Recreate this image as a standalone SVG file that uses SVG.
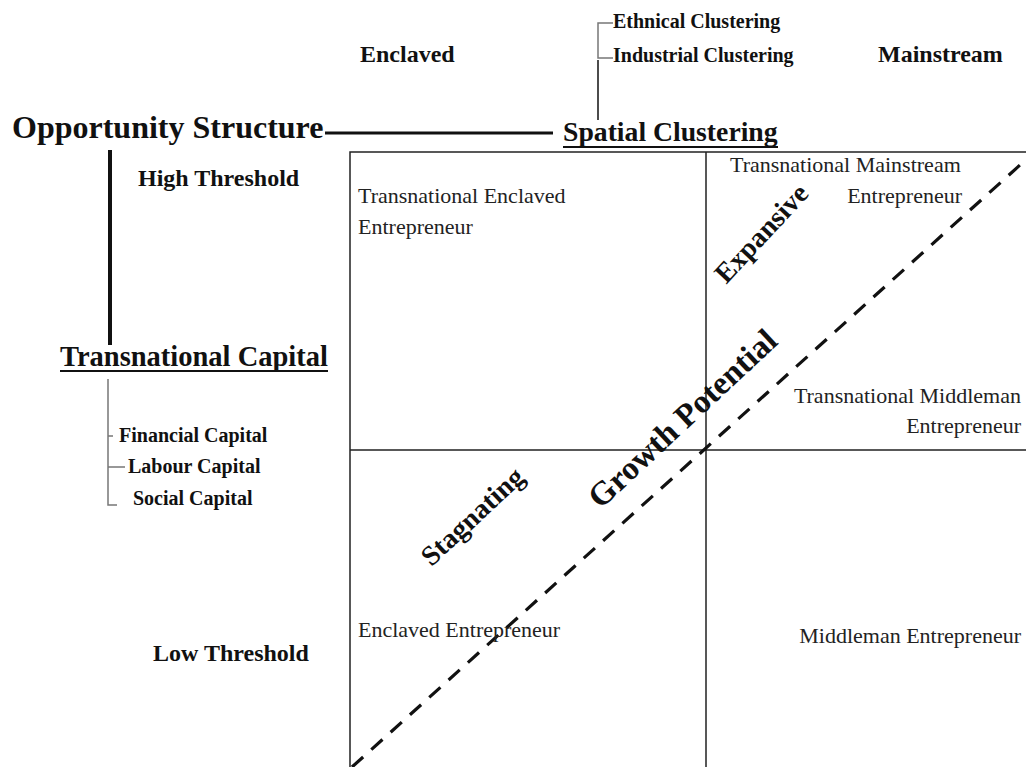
<svg xmlns="http://www.w3.org/2000/svg" width="1026" height="767" viewBox="0 0 1026 767">
  <style>
    text { font-family: "Liberation Serif", "Times New Roman", serif; }
    .b { font-weight: bold; fill: #111; }
    .r { fill: #222; font-size: 22px; }
    .lbl { font-size: 24px; }
    .sub { font-size: 20px; }
    .grid { stroke: #222; stroke-width: 1.5; fill: none; }
    .thick { stroke: #111; fill: none; }
    .brk { stroke: #777; stroke-width: 1.5; fill: none; }
    .dash { stroke: #111; stroke-width: 3.2; stroke-dasharray: 15 11; fill: none; }
  </style>
  <rect width="1026" height="767" fill="#fff"/>

  <!-- connectors and grid -->
  <g id="connectors">
    <line class="thick" x1="325" y1="133" x2="553" y2="133" stroke-width="3"/>
    <line class="thick" x1="110" y1="150" x2="110" y2="345" stroke-width="4"/>
    <line class="thick" x1="598" y1="60" x2="598" y2="120" stroke-width="1.5"/>
    <path class="brk" d="M613 23 H598 V58 H613"/>
    <path class="brk" d="M108 379 V505 H117 M108 436 H113 M108 467 H125"/>
    <path class="grid" d="M350 767 V152 H1026 M706 152 V767 M350 450 H1026"/>
    <line class="dash" x1="352" y1="767" x2="1030" y2="156"/>
  </g>

  <g id="opportunity-structure">
    <text class="b" x="12" y="138" font-size="32">Opportunity Structure</text>
  </g>
  <g id="spatial-clustering">
    <text class="b" x="563" y="141" font-size="27.7">Spatial Clustering</text>
    <line x1="563" y1="147" x2="778" y2="147" stroke="#111" stroke-width="2"/>
  </g>
  <g id="ethnical-clustering"><text class="b sub" x="613" y="28">Ethnical Clustering</text></g>
  <g id="industrial-clustering"><text class="b sub" x="613" y="62">Industrial Clustering</text></g>
  <g id="enclaved"><text class="b lbl" x="360" y="62">Enclaved</text></g>
  <g id="mainstream"><text class="b lbl" x="878" y="62">Mainstream</text></g>
  <g id="high-threshold"><text class="b lbl" x="138" y="186">High Threshold</text></g>
  <g id="low-threshold"><text class="b lbl" x="153" y="661">Low Threshold</text></g>
  <g id="transnational-capital">
    <text class="b" x="60" y="366" font-size="28.5">Transnational Capital</text>
    <line x1="60" y1="371" x2="328" y2="371" stroke="#111" stroke-width="2"/>
  </g>
  <g id="financial-capital"><text class="b sub" x="119" y="442">Financial Capital</text></g>
  <g id="labour-capital"><text class="b sub" x="128" y="473">Labour Capital</text></g>
  <g id="social-capital"><text class="b sub" x="133" y="505">Social Capital</text></g>

  <g id="transnational-enclaved">
    <text class="r" x="358" y="203">Transnational Enclaved</text>
    <text class="r" x="358" y="234">Entrepreneur</text>
  </g>
  <g id="transnational-mainstream">
    <text class="r" x="730" y="172">Transnational Mainstream</text>
    <text class="r" x="962" y="203" text-anchor="end">Entrepreneur</text>
  </g>
  <g id="transnational-middleman">
    <text class="r" x="1021" y="403" text-anchor="end">Transnational Middleman</text>
    <text class="r" x="1021" y="433" text-anchor="end">Entrepreneur</text>
  </g>
  <g id="enclaved-entrepreneur"><text class="r" x="358" y="637">Enclaved Entrepreneur</text></g>
  <g id="middleman-entrepreneur"><text class="r" x="1021" y="643" text-anchor="end">Middleman Entrepreneur</text></g>

  <g id="expansive">
    <text class="b" font-size="28" text-anchor="middle" dy="0.35em" transform="translate(761 233) rotate(-47)">Expansive</text>
  </g>
  <g id="growth-potential">
    <text class="b" font-size="33" text-anchor="middle" dy="0.35em" transform="translate(682 418) rotate(-43)">Growth Potential</text>
  </g>
  <g id="stagnating">
    <text class="b" font-size="28" text-anchor="middle" dy="0.35em" transform="translate(472 516) rotate(-43)">Stagnating</text>
  </g>
</svg>
